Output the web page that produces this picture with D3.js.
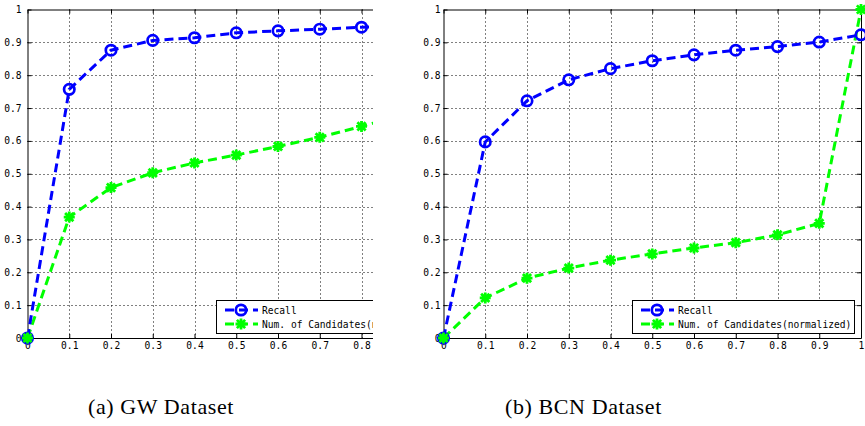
<!DOCTYPE html>
<html>
<head>
<meta charset="utf-8">
<script src="https://cdn.jsdelivr.net/npm/d3@7"></script>
<style>
  body { margin: 0; background: #fff; }
  svg text { font-family: "DejaVu Sans Mono", monospace; }
</style>
</head>
<body>
<svg id="chart" width="865" height="426"></svg>
<script>
// ticks shared by both panels
var ticks = [0, 0.1, 0.2, 0.3, 0.4, 0.5, 0.6, 0.7, 0.8, 0.9, 1];
var tickLabels = ['0', '0.1', '0.2', '0.3', '0.4', '0.5', '0.6', '0.7', '0.8', '0.9', '1'];

// (a) GW dataset - the figure is cropped on the right, 0.9 only shows as the line leaving the box
var gwX = [0, 0.1, 0.2, 0.3, 0.4, 0.5, 0.6, 0.7, 0.8, 0.9];
var gwRecall = [0, 0.757, 0.876, 0.906, 0.914, 0.929, 0.935, 0.940, 0.946, 0.949];
var gwCandidates = [0, 0.368, 0.458, 0.503, 0.533, 0.557, 0.583, 0.611, 0.644, 0.68];

// (b) BCN dataset
var bcnX = [0, 0.1, 0.2, 0.3, 0.4, 0.5, 0.6, 0.7, 0.8, 0.9, 1];
var bcnRecall = [0, 0.597, 0.722, 0.786, 0.82, 0.844, 0.862, 0.876, 0.887, 0.901, 0.923];
var bcnCandidates = [0, 0.122, 0.182, 0.213, 0.237, 0.256, 0.274, 0.29, 0.314, 0.349, 1];

var seriesNames = ['Recall', 'Num. of Candidates(normalized)'];
var blue = '#0000ff', green = '#00ff00';

var svg = d3.select('#chart');
var defs = svg.append('defs');

function star(g, cx, cy, r) {
    var d = 'M' + (cx - r) + ',' + cy + 'H' + (cx + r)
        + 'M' + cx + ',' + (cy - r) + 'V' + (cy + r)
        + 'M' + (cx - r * 0.75) + ',' + (cy - r * 0.75) + 'L' + (cx + r * 0.75) + ',' + (cy + r * 0.75)
        + 'M' + (cx - r * 0.75) + ',' + (cy + r * 0.75) + 'L' + (cx + r * 0.75) + ',' + (cy - r * 0.75);
    g.append('path').attr('d', d)
        .attr('stroke', green).attr('stroke-width', 2.8).attr('fill', 'none');
}

function circle(g, cx, cy) {
    g.append('circle').attr('cx', cx).attr('cy', cy).attr('r', 5.2)
        .attr('fill', 'none').attr('stroke', blue).attr('stroke-width', 2.7);
}

function drawPanel(cfg) {
    var id = cfg.id;
    defs.append('clipPath').attr('id', 'crop-' + id)
        .append('rect').attr('x', cfg.cropLeft).attr('y', 0)
        .attr('width', cfg.cropRight - cfg.cropLeft).attr('height', 426);
    defs.append('clipPath').attr('id', 'plot-' + id)
        .append('rect').attr('x', cfg.left).attr('y', cfg.top)
        .attr('width', cfg.right - cfg.left).attr('height', cfg.bottom - cfg.top);

    var panel = svg.append('g').attr('clip-path', 'url(#crop-' + id + ')');

    var x = d3.scaleLinear().domain([0, 1]).range([cfg.left, cfg.right]);
    var y = d3.scaleLinear().domain([0, 1]).range([cfg.bottom, cfg.top]);

    var inner = ticks.slice(1, -1);
    var grid = panel.append('g').attr('stroke', '#000').attr('stroke-width', 1)
        .attr('stroke-dasharray', '1,3');
    grid.selectAll('.gx').data(inner).enter().append('line')
        .attr('x1', d => Math.round(x(d)) + 0.5).attr('x2', d => Math.round(x(d)) + 0.5)
        .attr('y1', cfg.top).attr('y2', cfg.bottom);
    grid.selectAll('.gy').data(inner).enter().append('line')
        .attr('y1', d => Math.round(y(d)) + 0.5).attr('y2', d => Math.round(y(d)) + 0.5)
        .attr('x1', cfg.left).attr('x2', cfg.right);

    var fmt = d => tickLabels[ticks.indexOf(d)];

    panel.append('g').attr('transform', 'translate(0,' + cfg.bottom + ')')
        .call(d3.axisBottom(x).tickValues(ticks).tickFormat(fmt).tickSizeInner(-4).tickSizeOuter(0).tickPadding(4));
    panel.append('g').attr('transform', 'translate(' + cfg.left + ',0)')
        .call(d3.axisLeft(y).tickValues(ticks).tickFormat(fmt).tickSizeInner(-4).tickSizeOuter(0).tickPadding(cfg.yPad));
    panel.append('g').attr('transform', 'translate(0,' + cfg.top + ')')
        .call(d3.axisTop(x).tickValues(ticks).tickFormat('').tickSizeInner(-4).tickSizeOuter(0));
    panel.append('g').attr('transform', 'translate(' + cfg.right + ',0)')
        .call(d3.axisRight(y).tickValues(ticks).tickFormat('').tickSizeInner(-4).tickSizeOuter(0));

    panel.selectAll('.domain').attr('stroke', '#000').attr('stroke-width', 1);
    panel.selectAll('.tick line').attr('stroke', '#000');
    panel.selectAll('.tick text').attr('fill', '#000').style('font-size', '9.6px')
        .style('font-family', '"DejaVu Sans Mono", monospace');

    var line = d3.line().x(d => x(d[0])).y(d => y(d[1]));
    var lines = panel.append('g').attr('clip-path', 'url(#plot-' + id + ')');
    var recallPts = cfg.xs.map((v, i) => [v, cfg.recall[i]]);
    var candPts = cfg.xs.map((v, i) => [v, cfg.candidates[i]]);

    lines.append('path').datum(candPts).attr('d', line)
        .attr('fill', 'none').attr('stroke', green).attr('stroke-width', 3)
        .attr('stroke-dasharray', '9,5');
    lines.append('path').datum(recallPts).attr('d', line)
        .attr('fill', 'none').attr('stroke', blue).attr('stroke-width', 3)
        .attr('stroke-dasharray', '9,5');

    var marks = panel.append('g');
    recallPts.forEach(p => circle(marks, x(p[0]), y(p[1])));
    candPts.forEach(p => star(marks, x(p[0]), y(p[1]), 5.5));

    // legend, anchored to the lower right corner of the axes
    var lw = 222, lh = 33;
    var lx = cfg.right - 7 - lw, ly = cfg.bottom - 5 - lh;
    var legend = panel.append('g');
    legend.append('rect').attr('x', lx + 0.5).attr('y', ly + 0.5).attr('width', lw).attr('height', lh)
        .attr('fill', '#fff').attr('stroke', '#000');
    [blue, green].forEach((c, i) => {
        var ry = ly + 10 + i * 14;
        legend.append('line').attr('x1', lx + 9).attr('x2', lx + 42).attr('y1', ry).attr('y2', ry)
            .attr('stroke', c).attr('stroke-width', 3).attr('stroke-dasharray', '9,5');
        if (i === 0) circle(legend, lx + 25, ry);
        else star(legend, lx + 25, ry, 5.5);
        legend.append('text').attr('x', lx + 46).attr('y', ry + 3.5)
            .style('font-size', '9.6px').attr('fill', '#000').text(seriesNames[i]);
    });

    svg.append('text').attr('x', cfg.captionX).attr('y', 414)
        .style('font-family', '"Liberation Serif", "Times New Roman", serif')
        .style('font-size', '22px').style('letter-spacing', '0.6px').attr('fill', '#000')
        .text(cfg.caption);
}

drawPanel({
    id: 'gw', xs: gwX, recall: gwRecall, candidates: gwCandidates,
    left: 27.5, right: 445, top: 9.5, bottom: 338,
    cropLeft: 0, cropRight: 373, yPad: 6,
    caption: '(a) GW Dataset', captionX: 88
});

drawPanel({
    id: 'bcn', xs: bcnX, recall: bcnRecall, candidates: bcnCandidates,
    left: 443.5, right: 861, top: 9.5, bottom: 338,
    cropLeft: 395, cropRight: 865, yPad: 3,
    caption: '(b) BCN Dataset', captionX: 505
});
</script>
</body>
</html>
